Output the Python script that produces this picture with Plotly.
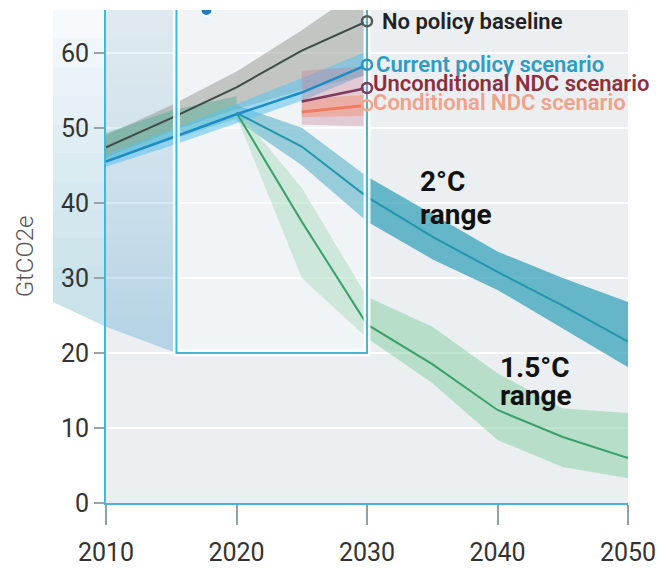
import plotly.graph_objects as go

# ---- data (GtCO2e) ----
SCEN_YEARS = [2010, 2015, 2020, 2025, 2030]
NO_POLICY = [47.4, 51.3, 55.4, 60.3, 64.2]
NO_POLICY_LO = [46.0, 49.5, 52.5, 55.0, 57.0]
NO_POLICY_HI = [49.0, 53.0, 57.5, 63.0, 69.0]

CURRENT = [45.5, 48.6, 51.8, 54.7, 58.4]
CURRENT_LO = [44.8, 47.6, 50.6, 53.6, 57.2]
CURRENT_HI = [46.4, 49.8, 53.2, 56.6, 60.2]

HIST_YEARS = [2010, 2015, 2020]
HIST_LO = [45.6, 48.4, 51.2]
HIST_HI = [49.3, 52.3, 54.2]

NDC_YEARS = [2025, 2030]
UNCOND = [53.5, 55.3]
UNCOND_LO = [50.4, 50.2]
UNCOND_HI = [57.6, 58.2]
COND = [52.1, 53.0]
COND_LO = [51.4, 51.6]
COND_HI = [53.8, 54.4]

PATH_YEARS = [2020, 2025, 2030, 2035, 2040, 2045, 2050]
TWO_C = [52.0, 47.5, 40.8, 35.5, 30.8, 26.3, 21.5]
TWO_C_LO = [51.0, 45.0, 37.5, 32.5, 28.4, 23.3, 18.1]
TWO_C_HI = [53.0, 50.0, 43.5, 38.5, 33.5, 30.0, 26.8]
ONE5_C = [52.0, 37.5, 23.8, 18.5, 12.4, 8.8, 6.0]
ONE5_C_LO = [51.5, 30.0, 22.0, 16.0, 8.4, 4.8, 3.3]
ONE5_C_HI = [52.5, 42.0, 27.5, 23.5, 17.3, 12.6, 12.0]

SCENARIO_LABELS = ["No policy baseline", "Current policy scenario",
                   "Unconditional NDC scenario", "Conditional NDC scenario"]
X_TICKS = [2010, 2020, 2030, 2040, 2050]
Y_TICKS = [0, 10, 20, 30, 40, 50, 60]

# zoom window (years / GtCO2e)
ZOOM_X0, ZOOM_X1, ZOOM_Y0, ZOOM_Y1 = 2015.4, 2030, 20, 70
Y_MAX = 65.7
LENS_BOTTOM_AXIS = 23.5
LENS_BOTTOM_OUTER = 26.8

FONT = "Roboto, 'Open Sans', sans-serif"
CYAN = "#45b6d6"

fig = go.Figure()


def band(x, lo, hi, color):
    fig.add_trace(go.Scatter(
        x=list(x) + list(x)[::-1], y=list(hi) + list(lo)[::-1],
        fill="toself", fillcolor=color, line=dict(width=0),
        mode="lines", hoverinfo="skip", showlegend=False))


def line(x, y, color, width):
    fig.add_trace(go.Scatter(
        x=x, y=y, mode="lines", line=dict(color=color, width=width),
        hoverinfo="skip", showlegend=False))


# magnifier lens, inside the plot
fig.add_trace(go.Scatter(
    x=[2010, ZOOM_X0, ZOOM_X0, 2010],
    y=[Y_MAX, Y_MAX, ZOOM_Y0, LENS_BOTTOM_AXIS],
    fill="toself", mode="lines", line=dict(width=0),
    fillgradient=dict(type="vertical", start=ZOOM_Y0, stop=Y_MAX,
                      colorscale=[[0, "rgba(100,170,210,0.42)"],
                                  [1, "rgba(150,200,225,0.14)"]]),
    hoverinfo="skip", showlegend=False))

# temperature pathway ranges
band(PATH_YEARS, TWO_C_LO, TWO_C_HI, "rgba(50,160,185,0.72)")
band(PATH_YEARS, ONE5_C_LO, ONE5_C_HI, "rgba(130,205,160,0.50)")

# glassy tint inside the zoom window
fig.add_trace(go.Scatter(
    x=[ZOOM_X0, ZOOM_X1, ZOOM_X1, ZOOM_X0], y=[ZOOM_Y0, ZOOM_Y0, ZOOM_Y1, ZOOM_Y1],
    fill="toself", fillcolor="rgba(255,255,255,0.32)", mode="lines",
    line=dict(width=0), hoverinfo="skip", showlegend=False))

# scenario ranges
band(SCEN_YEARS, NO_POLICY_LO, NO_POLICY_HI, "rgba(140,140,132,0.45)")
band(HIST_YEARS, HIST_LO, HIST_HI, "rgba(60,170,140,0.40)")
band(SCEN_YEARS, CURRENT_LO, CURRENT_HI, "rgba(90,195,238,0.55)")
band(NDC_YEARS, UNCOND_LO, UNCOND_HI, "rgba(200,120,145,0.35)")
band(NDC_YEARS, COND_LO, COND_HI, "rgba(245,140,110,0.45)")

# central lines
line(PATH_YEARS, ONE5_C, "#3aa06a", 2)
line(PATH_YEARS, TWO_C, "#2196ad", 2)
line(SCEN_YEARS, NO_POLICY, "#3d4b48", 2)
line(SCEN_YEARS, CURRENT, "#1d8cc4", 2.5)
line(NDC_YEARS, UNCOND, "#7b3a5c", 2.5)
line(NDC_YEARS, COND, "#f07c60", 3)

# zoom window frame
zx = [ZOOM_X0, ZOOM_X0, ZOOM_X1, ZOOM_X1]
zy = [ZOOM_Y1, ZOOM_Y0, ZOOM_Y0, ZOOM_Y1]
fig.add_trace(go.Scatter(x=zx, y=zy, mode="lines",
                         line=dict(color="rgba(255,255,255,0.85)", width=7),
                         hoverinfo="skip", showlegend=False))
fig.add_trace(go.Scatter(x=zx, y=zy, mode="lines",
                         line=dict(color=CYAN, width=2),
                         hoverinfo="skip", showlegend=False))

# 2030 end markers
END_VALUES = [NO_POLICY[-1], CURRENT[-1], UNCOND[-1], COND[-1]]
END_COLORS = ["#555b5a", "#2a94c8", "#7a3a5c", "#f2a58a"]
fig.add_trace(go.Scatter(
    x=[2030] * 4, y=END_VALUES, mode="markers",
    marker=dict(symbol="circle-open", size=10, color=END_COLORS,
                line=dict(width=2.5)),
    hoverinfo="skip", showlegend=False))

# small lens handle at the top edge
fig.add_trace(go.Scatter(
    x=[2017.7], y=[Y_MAX], mode="markers",
    marker=dict(size=12, color="#1c7fc2", line=dict(color="white", width=2)),
    hoverinfo="skip", showlegend=False))

# lens shadow outside the plot (stacked for a soft vertical gradient)
px_left = -0.1015
yb_axis = LENS_BOTTOM_AXIS / Y_MAX
yb_outer = LENS_BOTTOM_OUTER / Y_MAX
n_steps = 10
for i in range(n_steps):
    top = 1.0 - i * (1.0 - 0.42) / n_steps
    fig.add_shape(
        type="path", xref="paper", yref="paper", layer="below",
        path=f"M {px_left},{top} L 0,{top} L 0,{yb_axis} L {px_left},{yb_outer} Z",
        fillcolor="rgba(140,195,222,0.05)" if i else "rgba(140,195,222,0.08)",
        line=dict(width=0))

# scenario labels
LABEL_COLORS = ["#222222", "#2e9cc3", "#8c2f3f", "#f2a288"]
LABEL_XSHIFT = [13, 7, 4, 4]
LABEL_YSHIFT = [0, 0, 5, 3]
for text, yv, col, xs, ys in zip(SCENARIO_LABELS, END_VALUES, LABEL_COLORS,
                                 LABEL_XSHIFT, LABEL_YSHIFT):
    fig.add_annotation(x=2030, y=yv, text=text, showarrow=False,
                       xanchor="left", yanchor="middle", xshift=xs, yshift=ys,
                       font=dict(family=FONT, size=22, color=col, weight=600))

# pathway labels
for txt, xv, yv in [("2°C", 2033.9, 42.8), ("range", 2033.9, 38.5),
                    ("1.5°C", 2040.0, 18.0), ("range", 2040.0, 14.3)]:
    fig.add_annotation(x=xv, y=yv, text=txt, showarrow=False,
                       xanchor="left", yanchor="middle",
                       font=dict(family=FONT, size=28, color="#111111",
                                 weight="bold"))

fig.update_layout(
    width=660, height=568,
    margin=dict(l=106, r=32, t=10, b=65),
    paper_bgcolor="white", plot_bgcolor="#ebeff2",
    showlegend=False,
    font=dict(family=FONT),
)
fig.update_xaxes(
    range=[2010, 2050], tickvals=X_TICKS, showgrid=False, zeroline=False,
    automargin=False,
    showline=True, linecolor=CYAN, linewidth=2,
    ticks="outside", ticklen=20, tickwidth=2, tickcolor="#8aa4ae",
    ticklabelstandoff=6,
    tickfont=dict(family=FONT, size=25, color="#333333"),
)
fig.update_yaxes(
    range=[0, Y_MAX], tickvals=Y_TICKS, showgrid=True, gridcolor="white",
    gridwidth=2, zeroline=False, automargin=False,
    showline=True, linecolor=CYAN, linewidth=2,
    ticks="outside", ticklen=10, tickwidth=2, tickcolor="#9aa4a8",
    tickfont=dict(family=FONT, size=25, color="#333333"),
    title=dict(text="GtCO2e", standoff=20,
               font=dict(family=FONT, size=24, color="#555555", weight=300)),
)

fig.write_html("out.html")
